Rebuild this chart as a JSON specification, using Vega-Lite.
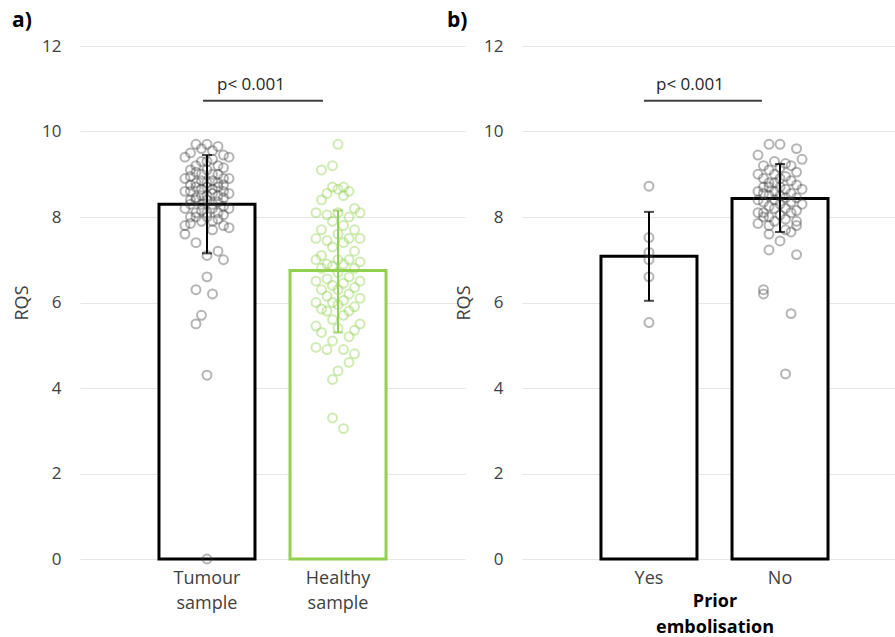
{
  "$schema": "https://vega.github.io/schema/vega-lite/v6.json",
  "padding": {"left": 12, "top": 10, "right": 0, "bottom": 0},
  "spacing": 57,
  "bounds": "flush",
  "config": {
    "font": "Open Sans",
    "view": {"stroke": null},
    "axis": {"labelFont": "Open Sans", "titleFont": "Open Sans", "labelColor": "#404040", "titleColor": "#404040", "domain": false, "ticks": false, "gridColor": "#e6e6e6", "gridWidth": 1}
  },
  "datasets": {
    "summary": [
      {"panel": "a", "group": "Tumour sample", "mean": 8.3, "lo": 7.15, "hi": 9.45},
      {"panel": "a", "group": "Healthy sample", "mean": 6.75, "lo": 5.3, "hi": 8.15},
      {"panel": "b", "group": "Yes", "mean": 7.08, "lo": 6.04, "hi": 8.12},
      {"panel": "b", "group": "No", "mean": 8.43, "lo": 7.65, "hi": 9.24}
    ],
    "points": [
      {"group": "Tumour sample", "rqs": 9.7, "j": 0}, {"group": "Tumour sample", "rqs": 9.7, "j": -2}, {"group": "Tumour sample", "rqs": 9.65, "j": 2}, {"group": "Tumour sample", "rqs": 9.6, "j": -1}, {"group": "Tumour sample", "rqs": 9.55, "j": 1}, {"group": "Tumour sample", "rqs": 9.5, "j": -3}, {"group": "Tumour sample", "rqs": 9.45, "j": 3}, {"group": "Tumour sample", "rqs": 9.4, "j": -4}, {"group": "Tumour sample", "rqs": 9.4, "j": 4}, {"group": "Tumour sample", "rqs": 9.35, "j": 1},
      {"group": "Tumour sample", "rqs": 9.3, "j": -1}, {"group": "Tumour sample", "rqs": 9.3, "j": 0}, {"group": "Tumour sample", "rqs": 9.2, "j": 2}, {"group": "Tumour sample", "rqs": 9.2, "j": -2}, {"group": "Tumour sample", "rqs": 9.15, "j": 3}, {"group": "Tumour sample", "rqs": 9.1, "j": -3}, {"group": "Tumour sample", "rqs": 9.1, "j": 0}, {"group": "Tumour sample", "rqs": 9.05, "j": -2}, {"group": "Tumour sample", "rqs": 9.0, "j": 2}, {"group": "Tumour sample", "rqs": 9.0, "j": -1},
      {"group": "Tumour sample", "rqs": 9.0, "j": 1}, {"group": "Tumour sample", "rqs": 8.95, "j": -3}, {"group": "Tumour sample", "rqs": 8.9, "j": 3}, {"group": "Tumour sample", "rqs": 8.9, "j": -4}, {"group": "Tumour sample", "rqs": 8.9, "j": 4}, {"group": "Tumour sample", "rqs": 8.85, "j": 1}, {"group": "Tumour sample", "rqs": 8.85, "j": -1}, {"group": "Tumour sample", "rqs": 8.8, "j": 0}, {"group": "Tumour sample", "rqs": 8.8, "j": 2}, {"group": "Tumour sample", "rqs": 8.8, "j": -2},
      {"group": "Tumour sample", "rqs": 8.75, "j": 3}, {"group": "Tumour sample", "rqs": 8.75, "j": -3}, {"group": "Tumour sample", "rqs": 8.7, "j": 0}, {"group": "Tumour sample", "rqs": 8.7, "j": -2}, {"group": "Tumour sample", "rqs": 8.7, "j": 2}, {"group": "Tumour sample", "rqs": 8.65, "j": -1}, {"group": "Tumour sample", "rqs": 8.65, "j": 1}, {"group": "Tumour sample", "rqs": 8.6, "j": -3}, {"group": "Tumour sample", "rqs": 8.6, "j": 3}, {"group": "Tumour sample", "rqs": 8.6, "j": -4},
      {"group": "Tumour sample", "rqs": 8.55, "j": 4}, {"group": "Tumour sample", "rqs": 8.55, "j": 1}, {"group": "Tumour sample", "rqs": 8.5, "j": -1}, {"group": "Tumour sample", "rqs": 8.5, "j": 0}, {"group": "Tumour sample", "rqs": 8.5, "j": 2}, {"group": "Tumour sample", "rqs": 8.45, "j": -2}, {"group": "Tumour sample", "rqs": 8.45, "j": 3}, {"group": "Tumour sample", "rqs": 8.4, "j": -3}, {"group": "Tumour sample", "rqs": 8.4, "j": 0}, {"group": "Tumour sample", "rqs": 8.4, "j": -2},
      {"group": "Tumour sample", "rqs": 8.35, "j": 2}, {"group": "Tumour sample", "rqs": 8.3, "j": -1}, {"group": "Tumour sample", "rqs": 8.3, "j": 1}, {"group": "Tumour sample", "rqs": 8.3, "j": -3}, {"group": "Tumour sample", "rqs": 8.25, "j": 3}, {"group": "Tumour sample", "rqs": 8.2, "j": -4}, {"group": "Tumour sample", "rqs": 8.2, "j": 4}, {"group": "Tumour sample", "rqs": 8.2, "j": 1}, {"group": "Tumour sample", "rqs": 8.15, "j": -1}, {"group": "Tumour sample", "rqs": 8.1, "j": 0},
      {"group": "Tumour sample", "rqs": 8.1, "j": 2}, {"group": "Tumour sample", "rqs": 8.1, "j": -2}, {"group": "Tumour sample", "rqs": 8.05, "j": 3}, {"group": "Tumour sample", "rqs": 8.0, "j": -3}, {"group": "Tumour sample", "rqs": 8.0, "j": 0}, {"group": "Tumour sample", "rqs": 8.0, "j": -2}, {"group": "Tumour sample", "rqs": 7.95, "j": 2}, {"group": "Tumour sample", "rqs": 7.9, "j": -1}, {"group": "Tumour sample", "rqs": 7.9, "j": 1}, {"group": "Tumour sample", "rqs": 7.85, "j": -3},
      {"group": "Tumour sample", "rqs": 7.8, "j": 3}, {"group": "Tumour sample", "rqs": 7.8, "j": -4}, {"group": "Tumour sample", "rqs": 7.75, "j": 4}, {"group": "Tumour sample", "rqs": 7.7, "j": 1},
      {"group": "Tumour sample", "rqs": 7.6, "j": -4}, {"group": "Tumour sample", "rqs": 7.4, "j": -2}, {"group": "Tumour sample", "rqs": 7.2, "j": 2}, {"group": "Tumour sample", "rqs": 7.0, "j": 3}, {"group": "Tumour sample", "rqs": 7.1, "j": 0}, {"group": "Tumour sample", "rqs": 6.6, "j": 0}, {"group": "Tumour sample", "rqs": 6.3, "j": -2}, {"group": "Tumour sample", "rqs": 6.2, "j": 1}, {"group": "Tumour sample", "rqs": 5.7, "j": -1}, {"group": "Tumour sample", "rqs": 5.5, "j": -2}, {"group": "Tumour sample", "rqs": 4.3, "j": 0}, {"group": "Tumour sample", "rqs": 0.0, "j": 0},

      {"group": "Healthy sample", "rqs": 9.7, "j": 0}, {"group": "Healthy sample", "rqs": 9.2, "j": -1}, {"group": "Healthy sample", "rqs": 9.1, "j": -3}, {"group": "Healthy sample", "rqs": 8.7, "j": 1}, {"group": "Healthy sample", "rqs": 8.7, "j": -1}, {"group": "Healthy sample", "rqs": 8.65, "j": 0}, {"group": "Healthy sample", "rqs": 8.6, "j": 2}, {"group": "Healthy sample", "rqs": 8.55, "j": -2}, {"group": "Healthy sample", "rqs": 8.5, "j": 1}, {"group": "Healthy sample", "rqs": 8.4, "j": -3},
      {"group": "Healthy sample", "rqs": 8.2, "j": 3}, {"group": "Healthy sample", "rqs": 8.1, "j": -4}, {"group": "Healthy sample", "rqs": 8.1, "j": 4}, {"group": "Healthy sample", "rqs": 8.1, "j": 0}, {"group": "Healthy sample", "rqs": 8.05, "j": -2}, {"group": "Healthy sample", "rqs": 8.0, "j": 2}, {"group": "Healthy sample", "rqs": 7.9, "j": -1}, {"group": "Healthy sample", "rqs": 7.8, "j": 1}, {"group": "Healthy sample", "rqs": 7.7, "j": -3}, {"group": "Healthy sample", "rqs": 7.7, "j": 3},
      {"group": "Healthy sample", "rqs": 7.6, "j": 0}, {"group": "Healthy sample", "rqs": 7.5, "j": -4}, {"group": "Healthy sample", "rqs": 7.5, "j": 4}, {"group": "Healthy sample", "rqs": 7.5, "j": 2}, {"group": "Healthy sample", "rqs": 7.45, "j": -2}, {"group": "Healthy sample", "rqs": 7.4, "j": 1}, {"group": "Healthy sample", "rqs": 7.3, "j": -1}, {"group": "Healthy sample", "rqs": 7.2, "j": 3}, {"group": "Healthy sample", "rqs": 7.1, "j": -3}, {"group": "Healthy sample", "rqs": 7.0, "j": 0},
      {"group": "Healthy sample", "rqs": 7.0, "j": -4}, {"group": "Healthy sample", "rqs": 7.0, "j": 2}, {"group": "Healthy sample", "rqs": 6.95, "j": 4}, {"group": "Healthy sample", "rqs": 6.9, "j": -2}, {"group": "Healthy sample", "rqs": 6.9, "j": 1}, {"group": "Healthy sample", "rqs": 6.85, "j": -1}, {"group": "Healthy sample", "rqs": 6.8, "j": 3}, {"group": "Healthy sample", "rqs": 6.8, "j": -3}, {"group": "Healthy sample", "rqs": 6.7, "j": 0}, {"group": "Healthy sample", "rqs": 6.6, "j": 2},
      {"group": "Healthy sample", "rqs": 6.55, "j": -2}, {"group": "Healthy sample", "rqs": 6.5, "j": -4}, {"group": "Healthy sample", "rqs": 6.5, "j": 4}, {"group": "Healthy sample", "rqs": 6.45, "j": 1}, {"group": "Healthy sample", "rqs": 6.4, "j": -1}, {"group": "Healthy sample", "rqs": 6.35, "j": 3}, {"group": "Healthy sample", "rqs": 6.3, "j": 0}, {"group": "Healthy sample", "rqs": 6.3, "j": -3}, {"group": "Healthy sample", "rqs": 6.2, "j": 2}, {"group": "Healthy sample", "rqs": 6.15, "j": -2},
      {"group": "Healthy sample", "rqs": 6.1, "j": 4}, {"group": "Healthy sample", "rqs": 6.05, "j": 1}, {"group": "Healthy sample", "rqs": 6.0, "j": -1}, {"group": "Healthy sample", "rqs": 6.0, "j": -4}, {"group": "Healthy sample", "rqs": 5.95, "j": 0}, {"group": "Healthy sample", "rqs": 5.9, "j": 3}, {"group": "Healthy sample", "rqs": 5.85, "j": -3}, {"group": "Healthy sample", "rqs": 5.8, "j": 2}, {"group": "Healthy sample", "rqs": 5.8, "j": -2}, {"group": "Healthy sample", "rqs": 5.7, "j": 1},
      {"group": "Healthy sample", "rqs": 5.6, "j": -1}, {"group": "Healthy sample", "rqs": 5.5, "j": 4}, {"group": "Healthy sample", "rqs": 5.45, "j": -4}, {"group": "Healthy sample", "rqs": 5.4, "j": 0}, {"group": "Healthy sample", "rqs": 5.35, "j": 3}, {"group": "Healthy sample", "rqs": 5.3, "j": -3}, {"group": "Healthy sample", "rqs": 5.2, "j": 2}, {"group": "Healthy sample", "rqs": 5.1, "j": -1}, {"group": "Healthy sample", "rqs": 4.95, "j": -4}, {"group": "Healthy sample", "rqs": 4.9, "j": -2},
      {"group": "Healthy sample", "rqs": 4.9, "j": 1}, {"group": "Healthy sample", "rqs": 4.8, "j": 3}, {"group": "Healthy sample", "rqs": 4.6, "j": 2}, {"group": "Healthy sample", "rqs": 4.4, "j": 0}, {"group": "Healthy sample", "rqs": 4.2, "j": -1}, {"group": "Healthy sample", "rqs": 3.3, "j": -1}, {"group": "Healthy sample", "rqs": 3.05, "j": 1},

      {"group": "Yes", "rqs": 8.72, "j": 0}, {"group": "Yes", "rqs": 7.52, "j": 0}, {"group": "Yes", "rqs": 7.17, "j": 0}, {"group": "Yes", "rqs": 7.0, "j": 0}, {"group": "Yes", "rqs": 6.6, "j": 0}, {"group": "Yes", "rqs": 5.53, "j": 0},

      {"group": "No", "rqs": 9.7, "j": -2}, {"group": "No", "rqs": 9.7, "j": 0}, {"group": "No", "rqs": 9.6, "j": 3}, {"group": "No", "rqs": 9.45, "j": -4}, {"group": "No", "rqs": 9.35, "j": 4}, {"group": "No", "rqs": 9.3, "j": -1}, {"group": "No", "rqs": 9.25, "j": 1}, {"group": "No", "rqs": 9.2, "j": -3}, {"group": "No", "rqs": 9.2, "j": 2}, {"group": "No", "rqs": 9.15, "j": 0},
      {"group": "No", "rqs": 9.1, "j": -2}, {"group": "No", "rqs": 9.05, "j": 3}, {"group": "No", "rqs": 9.0, "j": -4}, {"group": "No", "rqs": 9.0, "j": -1}, {"group": "No", "rqs": 8.95, "j": 1}, {"group": "No", "rqs": 8.9, "j": -3}, {"group": "No", "rqs": 8.9, "j": 0}, {"group": "No", "rqs": 8.85, "j": 2}, {"group": "No", "rqs": 8.8, "j": -2}, {"group": "No", "rqs": 8.8, "j": -1},
      {"group": "No", "rqs": 8.75, "j": 3}, {"group": "No", "rqs": 8.7, "j": -3}, {"group": "No", "rqs": 8.7, "j": 0}, {"group": "No", "rqs": 8.7, "j": -2}, {"group": "No", "rqs": 8.65, "j": 1}, {"group": "No", "rqs": 8.65, "j": 4}, {"group": "No", "rqs": 8.6, "j": -4}, {"group": "No", "rqs": 8.6, "j": -1}, {"group": "No", "rqs": 8.55, "j": 2}, {"group": "No", "rqs": 8.55, "j": -3},
      {"group": "No", "rqs": 8.5, "j": 0}, {"group": "No", "rqs": 8.5, "j": -2}, {"group": "No", "rqs": 8.45, "j": 3}, {"group": "No", "rqs": 8.45, "j": 1}, {"group": "No", "rqs": 8.4, "j": -1}, {"group": "No", "rqs": 8.4, "j": -4}, {"group": "No", "rqs": 8.35, "j": 2}, {"group": "No", "rqs": 8.35, "j": -3}, {"group": "No", "rqs": 8.3, "j": 0}, {"group": "No", "rqs": 8.3, "j": 4},
      {"group": "No", "rqs": 8.25, "j": -2}, {"group": "No", "rqs": 8.2, "j": 1}, {"group": "No", "rqs": 8.2, "j": -1}, {"group": "No", "rqs": 8.15, "j": 3}, {"group": "No", "rqs": 8.1, "j": -4}, {"group": "No", "rqs": 8.1, "j": -3}, {"group": "No", "rqs": 8.1, "j": 2}, {"group": "No", "rqs": 8.05, "j": 0}, {"group": "No", "rqs": 8.0, "j": -2}, {"group": "No", "rqs": 8.0, "j": -3},
      {"group": "No", "rqs": 7.95, "j": 1}, {"group": "No", "rqs": 7.9, "j": -1}, {"group": "No", "rqs": 7.9, "j": 3}, {"group": "No", "rqs": 7.85, "j": -4}, {"group": "No", "rqs": 7.8, "j": 3}, {"group": "No", "rqs": 7.8, "j": -2}, {"group": "No", "rqs": 7.7, "j": 1}, {"group": "No", "rqs": 7.65, "j": 2}, {"group": "No", "rqs": 7.6, "j": -2}, {"group": "No", "rqs": 7.44, "j": 0},
      {"group": "No", "rqs": 7.23, "j": -2}, {"group": "No", "rqs": 7.12, "j": 3}, {"group": "No", "rqs": 6.3, "j": -3}, {"group": "No", "rqs": 6.2, "j": -3}, {"group": "No", "rqs": 5.74, "j": 2}, {"group": "No", "rqs": 4.33, "j": 1}
    ]
  },
  "hconcat": [
    {
      "width": 385,
      "height": 513,
      "title": {"text": "a)", "anchor": "start", "frame": "group", "dx": -68, "fontSize": 21, "fontWeight": "bold", "color": "#000000", "font": "Open Sans", "offset": 6},
      "layer": [
        {
          "data": {"name": "summary"},
          "transform": [{"filter": "datum.panel === 'a'"}],
          "mark": {"type": "bar", "fill": "white", "strokeWidth": 3, "width": 96},
          "encoding": {
            "x": {"field": "group", "type": "nominal", "sort": ["Tumour sample", "Healthy sample"], "scale": {"paddingInner": 0.252, "paddingOuter": 0.595},
                  "axis": {"title": null, "labelAngle": 0, "labelFontSize": 18, "labelPadding": 10, "labelExpr": "split(datum.label, ' ')", "labelLineHeight": 25, "grid": false}},
            "y": {"field": "mean", "type": "quantitative", "scale": {"domain": [0, 12], "nice": false},
                  "axis": {"title": "RQS", "values": [0, 2, 4, 6, 8, 10, 12], "labelFontSize": 17, "labelPadding": 19, "titleFontSize": 18, "titleFontWeight": "normal", "titlePadding": 10, "grid": true}},
            "stroke": {"condition": {"test": "datum.group === 'Healthy sample'", "value": "#92d050"}, "value": "#000000"}
          }
        },
        {
          "data": {"name": "points"},
          "transform": [{"filter": "datum.group === 'Tumour sample' || datum.group === 'Healthy sample'"}],
          "mark": {"type": "point", "filled": false, "size": 80, "strokeWidth": 2},
          "encoding": {
            "x": {"field": "group", "type": "nominal", "sort": ["Tumour sample", "Healthy sample"]},
            "xOffset": {"field": "j", "type": "quantitative", "scale": {"domain": [-8.9, 8.9], "nice": false, "zero": false}},
            "y": {"field": "rqs", "type": "quantitative", "title": "RQS"},
            "stroke": {"condition": {"test": "datum.group === 'Healthy sample'", "value": "#92d050"}, "value": "#404040"},
            "strokeOpacity": {"condition": {"test": "datum.group === 'Healthy sample'", "value": 0.6}, "value": 0.55}
          }
        },
        {
          "data": {"name": "summary"},
          "transform": [{"filter": "datum.panel === 'a'"}],
          "mark": {"type": "rule", "strokeWidth": 2},
          "encoding": {
            "x": {"field": "group", "type": "nominal", "sort": ["Tumour sample", "Healthy sample"]},
            "y": {"field": "lo", "type": "quantitative", "title": "RQS"},
            "y2": {"field": "hi"},
            "stroke": {"condition": {"test": "datum.group === 'Healthy sample'", "value": "#92d050"}, "value": "#000000"}
          }
        },
        {
          "data": {"name": "summary"},
          "transform": [{"filter": "datum.panel === 'a'"}],
          "mark": {"type": "tick", "size": 10, "thickness": 2},
          "encoding": {
            "x": {"field": "group", "type": "nominal", "sort": ["Tumour sample", "Healthy sample"]},
            "y": {"field": "lo", "type": "quantitative", "title": "RQS"},
            "color": {"condition": {"test": "datum.group === 'Healthy sample'", "value": "#92d050"}, "value": "#000000"}
          }
        },
        {
          "data": {"name": "summary"},
          "transform": [{"filter": "datum.panel === 'a'"}],
          "mark": {"type": "tick", "size": 10, "thickness": 2},
          "encoding": {
            "x": {"field": "group", "type": "nominal", "sort": ["Tumour sample", "Healthy sample"]},
            "y": {"field": "hi", "type": "quantitative", "title": "RQS"},
            "color": {"condition": {"test": "datum.group === 'Healthy sample'", "value": "#92d050"}, "value": "#000000"}
          }
        },
        {
          "data": {"values": [{"label": "p< 0.001"}]},
          "mark": {"type": "rule", "stroke": "#404040", "strokeWidth": 2, "xOffset": -4, "x2Offset": -15},
          "encoding": {
            "x": {"datum": "Tumour sample", "type": "nominal"},
            "x2": {"datum": "Healthy sample"},
            "y": {"datum": 10.72, "type": "quantitative"}
          }
        },
        {
          "data": {"values": [{"label": "p< 0.001"}]},
          "mark": {"type": "text", "align": "left", "baseline": "alphabetic", "dx": 10, "fontSize": 17, "font": "Open Sans", "color": "#262626"},
          "encoding": {
            "x": {"datum": "Tumour sample", "type": "nominal"},
            "y": {"datum": 10.97, "type": "quantitative"},
            "text": {"field": "label"}
          }
        }
      ]
    },
    {
      "width": 385,
      "height": 513,
      "title": {"text": "b)", "anchor": "start", "frame": "group", "dx": -75, "fontSize": 21, "fontWeight": "bold", "color": "#000000", "font": "Open Sans", "offset": 6},
      "layer": [
        {
          "data": {"name": "summary"},
          "transform": [{"filter": "datum.panel === 'b'"}],
          "mark": {"type": "bar", "fill": "white", "strokeWidth": 3, "stroke": "#000000", "width": 96},
          "encoding": {
            "x": {"field": "group", "type": "nominal", "sort": ["Yes", "No"], "scale": {"paddingInner": 0.252, "paddingOuter": 0.595},
                  "axis": {"title": ["Prior", "embolisation"], "titleFontWeight": "bold", "titleFontSize": 18, "titleColor": "#000000", "titleLineHeight": 26, "titlePadding": 5, "labelAngle": 0, "labelFontSize": 18, "labelPadding": 10, "grid": false}},
            "y": {"field": "mean", "type": "quantitative", "scale": {"domain": [0, 12], "nice": false},
                  "axis": {"title": "RQS", "values": [0, 2, 4, 6, 8, 10, 12], "labelFontSize": 17, "labelPadding": 19, "titleFontSize": 18, "titleFontWeight": "normal", "titlePadding": 10, "grid": true}}
          }
        },
        {
          "data": {"name": "points"},
          "transform": [{"filter": "datum.group === 'Yes' || datum.group === 'No'"}],
          "mark": {"type": "point", "filled": false, "size": 80, "strokeWidth": 2, "stroke": "#404040", "strokeOpacity": 0.55},
          "encoding": {
            "x": {"field": "group", "type": "nominal", "sort": ["Yes", "No"]},
            "xOffset": {"field": "j", "type": "quantitative", "scale": {"domain": [-8.9, 8.9], "nice": false, "zero": false}},
            "y": {"field": "rqs", "type": "quantitative", "title": "RQS"}
          }
        },
        {
          "data": {"name": "summary"},
          "transform": [{"filter": "datum.panel === 'b'"}],
          "mark": {"type": "rule", "strokeWidth": 2, "stroke": "#000000"},
          "encoding": {
            "x": {"field": "group", "type": "nominal", "sort": ["Yes", "No"]},
            "y": {"field": "lo", "type": "quantitative", "title": "RQS"},
            "y2": {"field": "hi"}
          }
        },
        {
          "data": {"name": "summary"},
          "transform": [{"filter": "datum.panel === 'b'"}],
          "mark": {"type": "tick", "size": 10, "thickness": 2, "color": "#000000"},
          "encoding": {
            "x": {"field": "group", "type": "nominal", "sort": ["Yes", "No"]},
            "y": {"field": "lo", "type": "quantitative", "title": "RQS"}
          }
        },
        {
          "data": {"name": "summary"},
          "transform": [{"filter": "datum.panel === 'b'"}],
          "mark": {"type": "tick", "size": 10, "thickness": 2, "color": "#000000"},
          "encoding": {
            "x": {"field": "group", "type": "nominal", "sort": ["Yes", "No"]},
            "y": {"field": "hi", "type": "quantitative", "title": "RQS"}
          }
        },
        {
          "data": {"values": [{"label": "p< 0.001"}]},
          "mark": {"type": "rule", "stroke": "#404040", "strokeWidth": 2, "xOffset": -5, "x2Offset": -18},
          "encoding": {
            "x": {"datum": "Yes", "type": "nominal"},
            "x2": {"datum": "No"},
            "y": {"datum": 10.72, "type": "quantitative"}
          }
        },
        {
          "data": {"values": [{"label": "p< 0.001"}]},
          "mark": {"type": "text", "align": "left", "baseline": "alphabetic", "dx": 7, "fontSize": 17, "font": "Open Sans", "color": "#262626"},
          "encoding": {
            "x": {"datum": "Yes", "type": "nominal"},
            "y": {"datum": 10.97, "type": "quantitative"},
            "text": {"field": "label"}
          }
        }
      ]
    }
  ]
}
